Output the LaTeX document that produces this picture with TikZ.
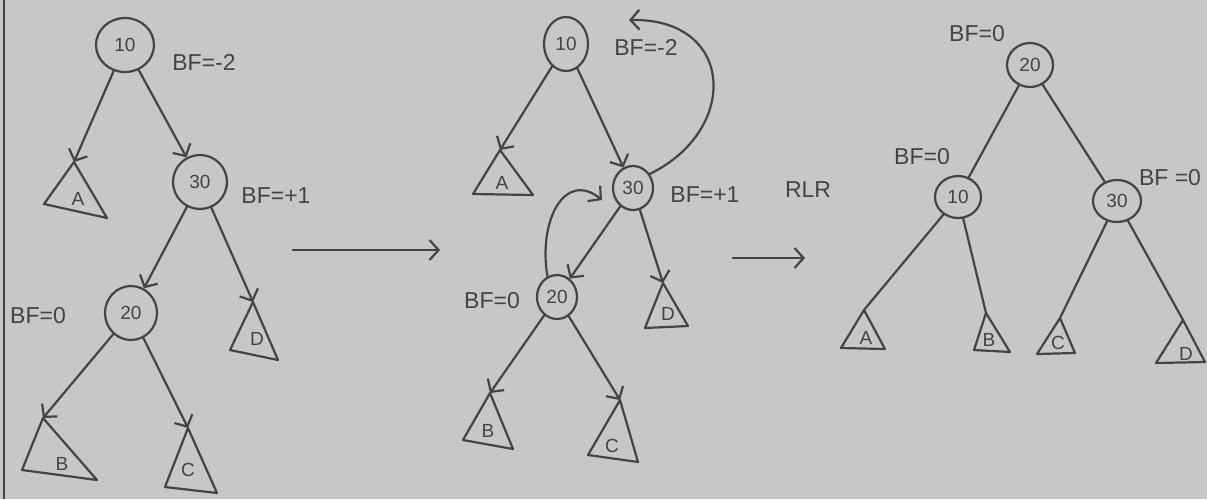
\documentclass[tikz,border=0pt]{standalone}
\usepackage{fontspec}
\setmainfont{Liberation Sans}
\usetikzlibrary{arrows.meta,shapes.geometric}
\definecolor{paper}{RGB}{199,199,197}
\definecolor{ink}{RGB}{68,68,68}
\tikzset{
  ink/.style={draw=ink, line width=2.2pt, line cap=round, line join=round},
  keynode/.style={ellipse, draw=ink, line width=2.2pt, inner sep=0pt,
    font=\fontsize{19}{19}\selectfont, text=ink},
  bf/.style={font=\fontsize{23}{23}\selectfont, text=ink, inner sep=0pt},
  leaflbl/.style={font=\fontsize{19}{19}\selectfont, text=ink, inner sep=0pt},
  tip/.style={-{Straight Barb[length=9pt,width=20pt]}},
  child/.style={ink, tip},
  plain/.style={ink}
}
\begin{document}
\begin{tikzpicture}[x=1pt,y=-1pt]
\fill[paper] (0,0) rectangle (1207,499);
\useasboundingbox (0,0) rectangle (1207,499);
% notebook edge
\draw[draw=ink, line width=2.5pt] (4,0) -- (4,499);

% ---------- first tree: imbalance at 10 ----------
\node[keynode, minimum width=58pt, minimum height=54pt] (a10) at (125,45) {10};
\node[bf] at (204,62) {BF=-2};
\node[keynode, minimum width=54pt, minimum height=54pt] (a30) at (200,182) {30};
\node[bf] at (276,196) {BF=+1};
\node[keynode, minimum width=52pt, minimum height=54pt] (a20) at (131,313) {20};
\node[bf] at (38,316) {BF=0};

\coordinate (aA) at (74,162);
\draw[ink] (aA) -- (44,204) -- (107,218) -- cycle;
\node[leaflbl] at (78,199) {A};
\coordinate (aD) at (253,302);
\draw[ink] (aD) -- (230,350) -- (278,360) -- cycle;
\node[leaflbl] at (257,339) {D};
\coordinate (aB) at (43,418);
\draw[ink] (aB) -- (22,470) -- (97,480) -- cycle;
\node[leaflbl] at (62,464) {B};
\coordinate (aC) at (188,428);
\draw[ink] (aC) -- (165,487) -- (217,493) -- cycle;
\node[leaflbl] at (188,470) {C};

\draw[child] (a10) -- (aA);
\draw[child] (a10) -- (a30);
\draw[child] (a30) -- (a20);
\draw[child] (a30) -- (aD);
\draw[child] (a20) -- (aB);
\draw[child] (a20) -- (aC);

% arrow to the second tree
\coordinate (s1) at (293,250);
\coordinate (e1) at (440,250);
\draw[ink, tip] (s1) -- (e1);

% ---------- second tree: right-left rotation ----------
\node[keynode, minimum width=44pt, minimum height=54pt] (b10) at (566,44) {10};
\node[bf] at (646,47) {BF=-2};
\node[keynode, minimum width=40pt, minimum height=44pt] (b30) at (633,188) {30};
\node[bf] at (705,195) {BF=+1};
\node[bf] at (808,190) {RLR};
\node[keynode, minimum width=40pt, minimum height=44pt] (b20) at (557,297) {20};
\node[bf] at (492,301) {BF=0};

\coordinate (bA) at (500,150);
\draw[ink] (bA) -- (473,194) -- (533,195) -- cycle;
\node[leaflbl] at (502,183) {A};
\coordinate (bD) at (663,283);
\draw[ink] (bD) -- (645,328) -- (688,326) -- cycle;
\node[leaflbl] at (668,314) {D};
\coordinate (bB) at (490,393);
\draw[ink] (bB) -- (463,440) -- (513,449) -- cycle;
\node[leaflbl] at (488,431) {B};
\coordinate (bC) at (620,400);
\draw[ink] (bC) -- (588,455) -- (638,462) -- cycle;
\node[leaflbl] at (612,446) {C};

\draw[child] (b10) -- (bA);
\draw[child] (b10) -- (b30);
\draw[child] (b30) -- (b20);
\draw[child] (b30) -- (bD);
\draw[child] (b20) -- (bB);
\draw[child] (b20) -- (bC);

% rotation arrows
\coordinate (rotTop) at (629,20);
\draw[ink, tip] (b30.40) .. controls (740,130) and (735,18) .. (rotTop);
\coordinate (rotIn) at (602,200);
\draw[ink, tip] (b20.115) .. controls (538,220) and (565,170) .. (rotIn);

% arrow to the third tree
\coordinate (s2) at (733,258);
\coordinate (e2) at (805,258);
\draw[ink, tip] (s2) -- (e2);

% ---------- third tree: balanced ----------
\node[keynode, minimum width=46pt, minimum height=44pt] (c20) at (1030,65) {20};
\node[bf] at (977,34) {BF=0};
\node[keynode, minimum width=46pt, minimum height=42pt] (c10) at (958,197) {10};
\node[bf] at (922,157) {BF=0};
\node[keynode, minimum width=48pt, minimum height=42pt] (c30) at (1117,201) {30};
\node[bf] at (1170,178) {BF =0};

\coordinate (cA) at (864,310);
\draw[ink] (cA) -- (841,348) -- (885,349) -- cycle;
\node[leaflbl] at (866,338) {A};
\coordinate (cB) at (986,313);
\draw[ink] (cB) -- (974,350) -- (1010,352) -- cycle;
\node[leaflbl] at (989,340) {B};
\coordinate (cC) at (1060,318);
\draw[ink] (cC) -- (1037,354) -- (1075,353) -- cycle;
\node[leaflbl] at (1058,343) {C};
\coordinate (cD) at (1183,320);
\draw[ink] (cD) -- (1156,363) -- (1205,362) -- cycle;
\node[leaflbl] at (1186,354) {D};

\draw[plain] (c20) -- (c10);
\draw[plain] (c20) -- (c30);
\draw[plain] (c10) -- (cA);
\draw[plain] (c10) -- (cB);
\draw[plain] (c30) -- (cC);
\draw[plain] (c30) -- (cD);
\end{tikzpicture}
\end{document}
